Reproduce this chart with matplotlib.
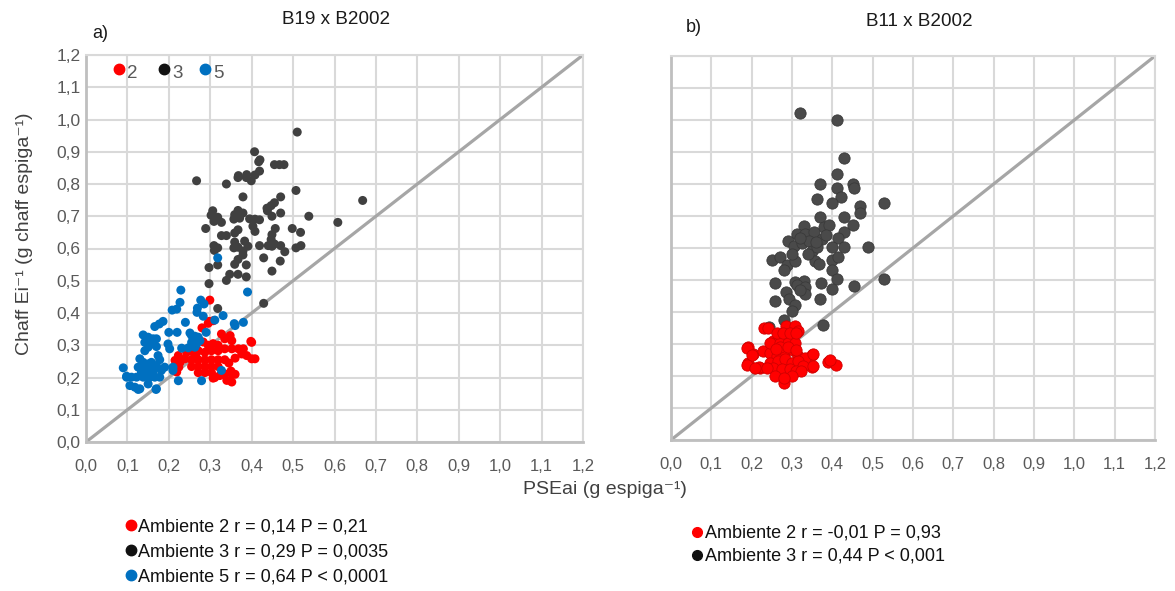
import matplotlib
matplotlib.use("Agg")
import matplotlib.pyplot as plt

plt.rcParams['font.family'] = ['Liberation Sans', 'DejaVu Sans']

# ---------------- data ----------------
ticks = [0.0, 0.1, 0.2, 0.3, 0.4, 0.5, 0.6, 0.7, 0.8, 0.9, 1.0, 1.1, 1.2]
tick_labels = ["0,0", "0,1", "0,2", "0,3", "0,4", "0,5", "0,6", "0,7", "0,8", "0,9", "1,0", "1,1", "1,2"]

# Panel a) B19 x B2002
a3_x = [0.51, 0.407, 0.417, 0.455, 0.467, 0.478, 0.419, 0.408, 0.367, 0.387, 0.399, 0.267, 0.339, 0.507,
        0.379, 0.47, 0.668, 0.455, 0.447, 0.437, 0.438, 0.47, 0.306, 0.302, 0.318, 0.309, 0.327, 0.367,
        0.359, 0.379, 0.357, 0.371, 0.395, 0.408, 0.419, 0.403, 0.408, 0.449, 0.538, 0.608, 0.289, 0.367,
        0.359, 0.327, 0.339, 0.457, 0.449, 0.447, 0.498, 0.518, 0.309, 0.318, 0.31, 0.359, 0.383, 0.391,
        0.357, 0.367, 0.419, 0.44, 0.455, 0.449, 0.47, 0.48, 0.507, 0.519, 0.379, 0.379, 0.367, 0.359,
        0.429, 0.469, 0.318, 0.297, 0.387, 0.449, 0.347, 0.367, 0.339, 0.387, 0.297, 0.429, 0.318, 0.42,
        0.388, 0.368]
a3_y = [0.961, 0.90, 0.869, 0.86, 0.86, 0.86, 0.84, 0.828, 0.82, 0.82, 0.81, 0.81, 0.80, 0.78,
        0.76, 0.76, 0.749, 0.742, 0.733, 0.725, 0.717, 0.71, 0.717, 0.703, 0.697, 0.684, 0.681, 0.718,
        0.705, 0.71, 0.691, 0.694, 0.692, 0.691, 0.689, 0.669, 0.653, 0.70, 0.70, 0.681, 0.662, 0.658,
        0.648, 0.64, 0.64, 0.662, 0.643, 0.628, 0.662, 0.65, 0.609, 0.602, 0.594, 0.62, 0.623, 0.607,
        0.602, 0.604, 0.609, 0.609, 0.614, 0.607, 0.609, 0.59, 0.602, 0.609, 0.592, 0.58, 0.566, 0.551,
        0.571, 0.561, 0.549, 0.541, 0.549, 0.53, 0.52, 0.52, 0.501, 0.512, 0.491, 0.43, 0.414, 0.875,
        0.829, 0.826]

a2_x = [0.299, 0.297, 0.295, 0.307, 0.28, 0.327, 0.348, 0.352, 0.335, 0.4, 0.398, 0.283, 0.295, 0.307,
        0.319, 0.243, 0.259, 0.271, 0.287, 0.303, 0.319, 0.335, 0.352, 0.368, 0.38, 0.376, 0.388, 0.4,
        0.408, 0.223, 0.215, 0.227, 0.239, 0.255, 0.271, 0.287, 0.303, 0.319, 0.335, 0.255, 0.271, 0.287,
        0.303, 0.319, 0.224, 0.219, 0.271, 0.287, 0.303, 0.311, 0.323, 0.335, 0.352, 0.307, 0.34, 0.352,
        0.36, 0.35, 0.265, 0.36, 0.345]
a2_y = [0.44, 0.374, 0.368, 0.376, 0.354, 0.335, 0.33, 0.314, 0.32, 0.309, 0.312, 0.31, 0.30, 0.305,
        0.30, 0.278, 0.278, 0.283, 0.278, 0.283, 0.283, 0.289, 0.289, 0.289, 0.289, 0.273, 0.268, 0.258,
        0.258, 0.268, 0.253, 0.247, 0.258, 0.255, 0.255, 0.255, 0.255, 0.255, 0.255, 0.234, 0.234, 0.234,
        0.234, 0.234, 0.232, 0.217, 0.215, 0.215, 0.215, 0.20, 0.206, 0.211, 0.211, 0.198, 0.191, 0.186,
        0.21, 0.22, 0.27, 0.26, 0.245]

a5_x = [0.229, 0.39, 0.227, 0.277, 0.285, 0.208, 0.219, 0.269, 0.268, 0.331, 0.311, 0.38, 0.36, 0.186,
        0.177, 0.166, 0.24, 0.2, 0.22, 0.138, 0.15, 0.162, 0.17, 0.255, 0.271, 0.275, 0.29, 0.142, 0.158,
        0.15, 0.142, 0.17, 0.198, 0.202, 0.231, 0.247, 0.263, 0.255, 0.267, 0.174, 0.178, 0.13, 0.138,
        0.15, 0.158, 0.17, 0.09, 0.126, 0.134, 0.146, 0.158, 0.17, 0.182, 0.19, 0.21, 0.21, 0.098, 0.11,
        0.122, 0.138, 0.154, 0.166, 0.178, 0.223, 0.106, 0.118, 0.13, 0.17, 0.15, 0.279, 0.327, 0.318,
        0.169, 0.126, 0.098, 0.251, 0.263, 0.271, 0.283, 0.358, 0.134, 0.146, 0.162]
a5_y = [0.471, 0.465, 0.433, 0.44, 0.428, 0.409, 0.412, 0.415, 0.402, 0.392, 0.378, 0.371, 0.361, 0.374,
        0.366, 0.358, 0.371, 0.34, 0.34, 0.332, 0.325, 0.32, 0.32, 0.33, 0.325, 0.314, 0.34, 0.309, 0.304,
        0.294, 0.283, 0.296, 0.304, 0.289, 0.291, 0.292, 0.294, 0.309, 0.304, 0.268, 0.255, 0.258, 0.247,
        0.242, 0.247, 0.237, 0.23, 0.232, 0.222, 0.232, 0.222, 0.232, 0.222, 0.232, 0.232, 0.222, 0.201,
        0.201, 0.201, 0.201, 0.201, 0.201, 0.201, 0.19, 0.175, 0.17, 0.165, 0.165, 0.18, 0.19, 0.222,
        0.571, 0.163, 0.163, 0.204, 0.338, 0.328, 0.318, 0.39, 0.367, 0.215, 0.21, 0.215]

# Panel b) B11 x B2002
b3_x = [0.319, 0.411, 0.429, 0.411, 0.369, 0.411, 0.45, 0.453, 0.421, 0.361, 0.398, 0.529, 0.469, 0.469,
        0.369, 0.329, 0.429, 0.45, 0.313, 0.333, 0.354, 0.379, 0.392, 0.429, 0.289, 0.304, 0.325, 0.342,
        0.375, 0.413, 0.35, 0.363, 0.40, 0.429, 0.489, 0.25, 0.271, 0.288, 0.308, 0.358, 0.367, 0.40,
        0.413, 0.279, 0.40, 0.258, 0.308, 0.329, 0.286, 0.313, 0.333, 0.371, 0.411, 0.453, 0.529, 0.40,
        0.292, 0.333, 0.369, 0.258, 0.308, 0.30, 0.279, 0.378, 0.242, 0.32, 0.34, 0.30, 0.32, 0.36, 0.385]
b3_y = [1.021, 1.0, 0.88, 0.831, 0.80, 0.789, 0.80, 0.789, 0.76, 0.753, 0.74, 0.742, 0.73, 0.709,
        0.696, 0.67, 0.696, 0.672, 0.644, 0.644, 0.651, 0.665, 0.672, 0.651, 0.623, 0.607, 0.616, 0.623,
        0.628, 0.63, 0.592, 0.602, 0.602, 0.602, 0.602, 0.563, 0.571, 0.548, 0.56, 0.56, 0.55, 0.563,
        0.571, 0.53, 0.53, 0.491, 0.493, 0.498, 0.464, 0.483, 0.478, 0.491, 0.502, 0.481, 0.502, 0.473,
        0.441, 0.457, 0.441, 0.433, 0.423, 0.402, 0.374, 0.358, 0.353, 0.63, 0.58, 0.58, 0.47, 0.62, 0.64]

b2_x = [0.23, 0.241, 0.286, 0.307, 0.315, 0.295, 0.274, 0.253, 0.262, 0.192, 0.204, 0.229, 0.192, 0.221,
        0.188, 0.20, 0.188, 0.217, 0.279, 0.349, 0.349, 0.39, 0.41, 0.245, 0.262, 0.282, 0.303, 0.315,
        0.332, 0.352, 0.245, 0.266, 0.282, 0.299, 0.315, 0.328, 0.253, 0.274, 0.295, 0.311, 0.323, 0.352,
        0.393, 0.237, 0.208, 0.245, 0.27, 0.29, 0.307, 0.262, 0.278, 0.295, 0.311, 0.27, 0.29, 0.258,
        0.30, 0.28, 0.26, 0.31]
b2_y = [0.35, 0.35, 0.355, 0.355, 0.34, 0.33, 0.32, 0.31, 0.303, 0.29, 0.27, 0.277, 0.241, 0.226,
        0.287, 0.266, 0.234, 0.229, 0.177, 0.266, 0.229, 0.244, 0.234, 0.272, 0.262, 0.277, 0.282, 0.262,
        0.257, 0.27, 0.241, 0.246, 0.252, 0.241, 0.246, 0.231, 0.226, 0.221, 0.221, 0.215, 0.215, 0.23,
        0.25, 0.226, 0.226, 0.303, 0.303, 0.303, 0.303, 0.334, 0.334, 0.334, 0.334, 0.29, 0.29, 0.20,
        0.20, 0.195, 0.285, 0.28]

RED = "#FF0000"
DARK = "#404040"
BLUE = "#0070C0"
GRID = "#D9D9D9"
DIAG = "#A6A6A6"
TICKC = "#595959"

W, H = 1175, 591
fig = plt.figure(figsize=(W / 100, H / 100), dpi=100)


def px_rect(l, r, b, t):
    return [l / W, 1 - b / H, (r - l) / W, (b - t) / H]


def style_axes(ax, ylabels=True):
    ax.set_xlim(0, 1.2)
    ax.set_ylim(0, 1.2)
    ax.set_xticks(ticks)
    ax.set_yticks(ticks)
    ax.set_xticklabels(tick_labels, fontsize=12, color=TICKC)
    if ylabels:
        ax.set_yticklabels(tick_labels, fontsize=12.5, color=TICKC)
    else:
        ax.set_yticklabels([])
    ax.tick_params(axis="x", length=0, pad=12)
    ax.tick_params(axis="y", length=0, pad=4)
    ax.grid(True, color=GRID, linewidth=1.5, zorder=0)
    ax.set_axisbelow(True)
    for s in ["top", "right"]:
        ax.spines[s].set_color(GRID)
        ax.spines[s].set_linewidth(1.5)
    for s in ["left", "bottom"]:
        ax.spines[s].set_color("#BFBFBF")
        ax.spines[s].set_linewidth(2)
    ax.plot([0, 1.2], [0, 1.2], color=DIAG, linewidth=2.3, zorder=1, solid_capstyle="butt")


axa = fig.add_axes(px_rect(86, 583, 442, 55))
style_axes(axa, True)
axa.scatter(a3_x, a3_y, s=42, color=DARK, edgecolors="none", zorder=3)
axa.scatter(a2_x, a2_y, s=42, color=RED, edgecolors="none", zorder=4)
axa.scatter(a5_x, a5_y, s=42, color=BLUE, edgecolors="none", zorder=5)

axb = fig.add_axes(px_rect(671, 1155, 440, 56))
style_axes(axb, False)
axb.scatter(b3_x, b3_y, s=66, color="#4a4a4a", edgecolors="#3a3a3a", linewidths=0.6, zorder=3)
axb.scatter(b2_x, b2_y, s=66, color=RED, edgecolors="#d00000", linewidths=0.6, zorder=4)

# overlay in pixel coordinates for text and legend marks
ov = fig.add_axes([0, 0, 1, 1])
ov.set_xlim(0, W)
ov.set_ylim(H, 0)
ov.axis("off")
ov.patch.set_alpha(0)

ov.text(336, 20, "B19 x B2002", fontsize=13.6, ha="center", va="center", color="#1a1a1a")
ov.text(92, 34, "a)", fontsize=13, ha="left", va="center", color="#1a1a1a")
ov.text(919, 22, "B11 x B2002", fontsize=13.6, ha="center", va="center", color="#1a1a1a")
ov.text(686, 27, "b)", fontsize=13, ha="left", va="center", color="#1a1a1a")

ov.text(605, 490, "PSEai (g espiga\u207b\u00b9)", fontsize=14, ha="center", va="center", color=DARK)
ov.text(25, 234, "Chaff Ei\u207b\u00b9 (g chaff espiga\u207b\u00b9)", fontsize=14, ha="center", va="center",
        rotation=90, color=DARK)

# in-plot legend (panel a)
leg_top_cols = [RED, "#111111", BLUE]
leg_top_lbl = ["2", "3", "5"]
leg_top_xpos = [119, 164, 205]
for c, lbl, xx in zip(leg_top_cols, leg_top_lbl, leg_top_xpos):
    ov.plot([xx], [69], marker="o", markersize=7.5, color=c, linestyle="none")
    ov.text(xx + 8, 73, lbl, fontsize=13.5, ha="left", va="center", color=TICKC)

# bottom legends
leg_a_cols = [RED, "#111111", BLUE]
leg_a_txt = ["Ambiente 2 r = 0,14 P = 0,21", "Ambiente 3 r = 0,29 P = 0,0035", "Ambiente 5 r = 0,64 P < 0,0001"]
leg_a_y = [527, 552, 577]
for c, t, yy in zip(leg_a_cols, leg_a_txt, leg_a_y):
    ov.plot([131], [yy - 2], marker="o", markersize=7.5, color=c, linestyle="none")
    ov.text(138, yy, t, fontsize=13, ha="left", va="center", color="#111111")

leg_b_cols = [RED, "#111111"]
leg_b_txt = ["Ambiente 2 r = -0,01 P = 0,93", "Ambiente 3 r = 0,44 P < 0,001"]
leg_b_y = [533, 556]
for c, t, yy in zip(leg_b_cols, leg_b_txt, leg_b_y):
    ov.plot([697], [yy - 1], marker="o", markersize=7, color=c, linestyle="none")
    ov.text(705, yy, t, fontsize=13, ha="left", va="center", color="#111111")

fig.savefig("out.png", dpi=100, facecolor="white")
